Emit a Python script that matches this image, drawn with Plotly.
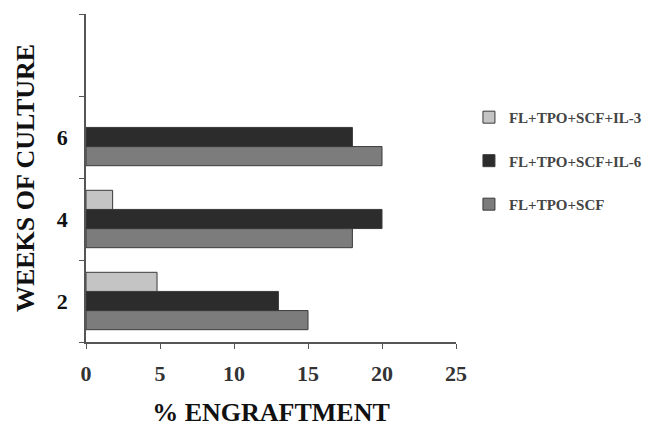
import plotly.graph_objects as go

weeks = ["2", "4", "6", "8"]
week_labels = ["<b>2</b>", "<b>4</b>", "<b>6</b>", ""]
x_ticks = [0, 5, 10, 15, 20, 25]
scf = [15, 18, 20, None]
il6 = [13, 20, 18, None]
il3 = [4.8, 1.8, None, None]

series = [
    ("FL+TPO+SCF", scf, "#7c7c7c", 3),
    ("FL+TPO+SCF+IL-6", il6, "#2c2c2c", 2),
    ("FL+TPO+SCF+IL-3", il3, "#c4c4c4", 1),
]

fig = go.Figure()
for i, (name, vals, col, rank) in enumerate(series):
    fig.add_trace(go.Bar(
        y=weeks, x=vals, name="<b>" + name + "</b>", orientation="h",
        legendgroup=str(i), legendrank=rank,
        marker=dict(color=col, line=dict(color="#3a3a3a", width=1)),
    ))

serif = "Liberation Serif, Times New Roman, serif"
fig.update_layout(
    width=645, height=430,
    margin=dict(l=78, r=197, t=6, b=96),
    paper_bgcolor="white", plot_bgcolor="white",
    barmode="group", bargap=0.3, bargroupgap=0,
    font=dict(family=serif, color="#111"),
    legend=dict(
        x=1.035, y=0.735, xanchor="left", yanchor="top",
        traceorder="grouped", tracegroupgap=21,
        font=dict(size=15, family=serif, color="#444"),
        bgcolor="rgba(0,0,0,0)",
    ),
    xaxis=dict(
        range=[0, 25], tickvals=x_ticks,
        ticktext=["<b>%d</b>" % v for v in x_ticks],
        showgrid=False, zeroline=False, automargin=True,
        showline=True, linecolor="#555", linewidth=1.5,
        ticks="outside", ticklen=5, tickcolor="#555",
        ticklabelstandoff=6,
        tickfont=dict(size=22, family=serif, color="#333"),
        title=dict(text="<b>% ENGRAFTMENT</b>", standoff=18,
                   font=dict(size=26, family=serif, color="#111")),
    ),
    yaxis=dict(
        type="category", categoryorder="array", categoryarray=weeks,
        tickvals=weeks, ticktext=week_labels,
        range=[-0.5, 3.5], tickson="boundaries",
        showgrid=False, zeroline=False, automargin=False,
        showline=True, linecolor="#555", linewidth=1.5,
        ticks="outside", ticklen=5, tickcolor="#555",
        ticklabelstandoff=12,
        tickfont=dict(size=22, family=serif, color="#111"),
        title=dict(text="<b>WEEKS OF CULTURE</b>",
                   font=dict(size=26, family=serif, color="#111")),
    ),
)

fig.write_html("out.html")
